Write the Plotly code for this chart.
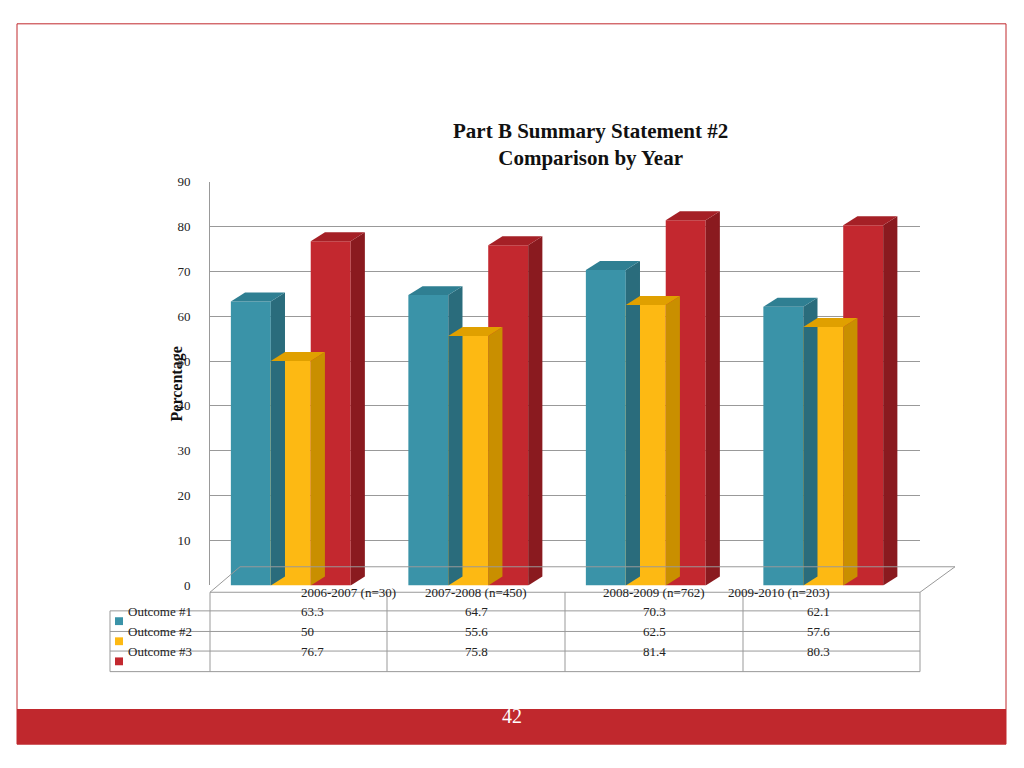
import plotly.graph_objects as go

categories = ["2006-2007 (n=30)", "2007-2008 (n=450)", "2008-2009 (n=762)", "2009-2010 (n=203)"]
series_names = ["Outcome #1", "Outcome #2", "Outcome #3"]
outcome1 = [63.3, 64.7, 70.3, 62.1]
outcome2 = [50, 55.6, 62.5, 57.6]
outcome3 = [76.7, 75.8, 81.4, 80.3]
y_ticks = [0, 10, 20, 30, 40, 50, 60, 70, 80, 90]

series = [outcome1, outcome2, outcome3]
front = ["#3A93A8", "#FDB913", "#C3282F"]
side = ["#2A6C7C", "#C98F00", "#8A1A1F"]
top = ["#2F7F92", "#E0A000", "#A52026"]

W, H = 1008, 752
def px(x): return (x - 8) / W
def py(y): return 1 - (y - 8) / H

fig = go.Figure()
bw = 0.225
offs = [-0.27, -0.045, 0.18]
dx, dy = 0.08, 2.0
shapes = []
for s, vals in enumerate(series):
    xs = [i + offs[s] for i in range(len(categories))]
    fig.add_trace(go.Bar(x=xs, y=vals, width=bw, marker=dict(color=front[s], line=dict(width=0)),
                         name=series_names[s], showlegend=False, hoverinfo="y"))
    for x, v in zip(xs, vals):
        l, r = x - bw / 2, x + bw / 2
        shapes.append(dict(type="path", xref="x", yref="y", layer="above",
                           path=f"M{r},{0} L{r+dx},{dy} L{r+dx},{v+dy} L{r},{v} Z",
                           fillcolor=side[s], line=dict(width=0)))
        shapes.append(dict(type="path", xref="x", yref="y", layer="above",
                           path=f"M{l},{v} L{l+dx},{v+dy} L{r+dx},{v+dy} L{r},{v} Z",
                           fillcolor=top[s], line=dict(width=0)))

shapes.append(dict(type="rect", xref="paper", yref="paper", x0=px(17), x1=px(1006), y0=py(752), y1=py(17),
                   line=dict(color="#C0282D", width=1)))
shapes.append(dict(type="rect", xref="paper", yref="paper", x0=px(17), x1=px(1006), y0=py(752), y1=py(716),
                   fillcolor="#C0282D", line=dict(width=0)))
shapes.append(dict(type="path", xref="paper", yref="paper",
                   path=f"M{px(210)},{py(597)} L{px(240)},{py(571)} L{px(955)},{py(571)} L{px(920)},{py(597)} Z",
                   line=dict(color="#999", width=1), fillcolor="rgba(0,0,0,0)"))
cols = [110, 210, 387, 565, 743, 920]
rows = [597, 616, 637, 657, 678]
for c in cols[1:]:
    shapes.append(dict(type="line", xref="paper", yref="paper", x0=px(c), x1=px(c), y0=py(597), y1=py(678),
                       line=dict(color="#999", width=1)))
shapes.append(dict(type="line", xref="paper", yref="paper", x0=px(110), x1=px(110), y0=py(616), y1=py(678),
                   line=dict(color="#999", width=1)))
for r in rows[1:]:
    shapes.append(dict(type="line", xref="paper", yref="paper", x0=px(110), x1=px(920), y0=py(r), y1=py(r),
                       line=dict(color="#999", width=1)))

ann = []
font = dict(family="Liberation Serif", size=13, color="#222")
for i, c in enumerate(categories):
    ann.append(dict(x=px((cols[i+1]+cols[i+2])/2), y=py(607), xref="paper", yref="paper", text=c,
                    showarrow=False, font=font))
for s, vals in enumerate(series):
    yc = py((rows[s+1] + rows[s+2]) / 2)
    shapes.append(dict(type="rect", xref="paper", yref="paper", x0=px(115), x1=px(123),
                       y0=yc - 4/H, y1=yc + 4/H, fillcolor=front[s], line=dict(width=0)))
    ann.append(dict(x=px(126), y=yc, xref="paper", yref="paper", text=series_names[s], xanchor="left",
                    showarrow=False, font=font))
    for i, v in enumerate(vals):
        ann.append(dict(x=px((cols[i+1]+cols[i+2])/2), y=yc, xref="paper", yref="paper", text=str(v),
                        showarrow=False, font=font))
ann.append(dict(x=px(590), y=py(112), xref="paper", yref="paper",
                text="<b>Part B Summary Statement #2<br>Comparison by Year</b>", showarrow=False,
                font=dict(family="Liberation Serif", size=21, color="#111")))
ann.append(dict(x=px(166), y=py(385), xref="paper", yref="paper", text="<b>Percentage</b>", textangle=-90,
                showarrow=False, font=dict(family="Liberation Serif", size=16, color="#111")))
ann.append(dict(x=px(512), y=py(737), xref="paper", yref="paper", text="42", showarrow=False,
                font=dict(family="Liberation Serif", size=20, color="white")))

fig.update_layout(
    width=W, height=H, margin=dict(l=0, r=0, t=0, b=0), paper_bgcolor="white", plot_bgcolor="white",
    barmode="overlay", shapes=shapes, annotations=ann,
    xaxis=dict(domain=[px(210), px(920)], range=[-0.5, 3.5], showticklabels=False, showgrid=False,
               zeroline=False, fixedrange=True),
    yaxis=dict(domain=[py(590), py(178)], range=[0, 90], tickvals=y_ticks, showgrid=True, gridcolor="#999",
               zeroline=False, showline=True, linecolor="#999", ticks="", ticklabelstandoff=16,
               tickfont=dict(family="Liberation Serif", size=13, color="#222")),
)
fig.write_html("out.html")
